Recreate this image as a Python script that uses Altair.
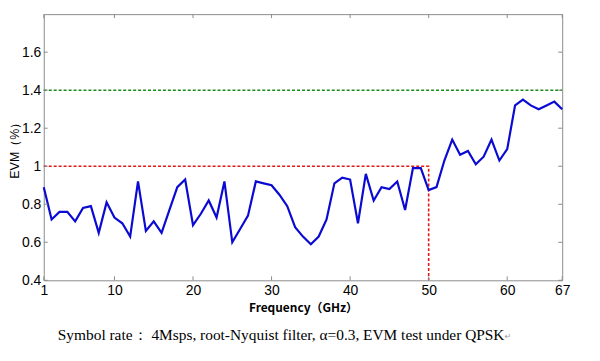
import altair as alt
import pandas as pd

freq = list(range(1, 68))
evm = [0.89, 0.72, 0.76, 0.76, 0.71, 0.78, 0.79, 0.65, 0.81, 0.73,
       0.70, 0.63, 0.92, 0.66, 0.71, 0.65, 0.77, 0.89, 0.93, 0.69,
       0.75, 0.82, 0.73, 0.92, 0.60, 0.67, 0.74, 0.92, 0.91, 0.90,
       0.85, 0.79, 0.68, 0.63, 0.59, 0.63, 0.72, 0.91, 0.94, 0.93,
       0.70, 0.96, 0.82, 0.89, 0.88, 0.92, 0.77, 0.99, 0.99, 0.875,
       0.89, 1.03, 1.14, 1.06, 1.08, 1.01, 1.05, 1.14, 1.03, 1.09,
       1.32, 1.35, 1.32, 1.30, 1.32, 1.34, 1.30]

limit_x = [1, 50, 50]
limit_y = [1.0, 1.0, 0.4]
green_level = 1.4

x_ticks = [1, 10, 20, 30, 40, 50, 60, 67]
y_ticks = [0.4, 0.6, 0.8, 1.0, 1.2, 1.4, 1.6]
caption = "Symbol rate：  4Msps, root-Nyquist filter, α=0.3, EVM test under QPSK"

W, H = 522, 268
TICK = 4
AXIS_GRAY = "#8c8c8c"

xs = alt.Scale(domain=[1, 67], nice=False, zero=False)
ys = alt.Scale(domain=[0.4, 1.8], nice=False, zero=False)

df = pd.DataFrame({"f": freq, "evm": evm})
red_df = pd.DataFrame({"f": limit_x, "evm": limit_y, "o": [0, 1, 2]})
green_df = pd.DataFrame({"f": [1], "f2": [67], "evm": [green_level]})
xt_df = pd.DataFrame({"f": x_ticks})
yt_df = pd.DataFrame({"evm": y_ticks})

base_x = alt.X("f:Q", scale=xs, axis=alt.Axis(
    values=x_ticks, title="Frequency（GHz）", tickSize=0, domain=False, grid=False,
    labelFont="Liberation Sans", labelFontSize=14, labelColor="black", labelPadding=3,
    titleFont="Noto Sans CJK SC", titleFontSize=12, titleFontWeight="bold",
    titleColor="black", titlePadding=5, labelFlush=False))
base_y = alt.Y("evm:Q", scale=ys, axis=alt.Axis(
    values=y_ticks, title="EVM（%）", tickSize=0, domain=False, grid=False,
    labelExpr="format(datum.value, '~g')",
    labelFont="Liberation Sans", labelFontSize=14, labelColor="black", labelPadding=3,
    titleFont="Liberation Sans", titleFontSize=12.5, titleFontWeight="normal",
    titleColor="black", titlePadding=0))

line = alt.Chart(df).mark_line(color="#0a0ad2", strokeWidth=2.2).encode(x=base_x, y=base_y)

green = alt.Chart(green_df).mark_rule(color="#1a8a1a", strokeWidth=1.6, strokeDash=[3, 2]).encode(
    x=alt.X("f:Q", scale=xs), x2="f2:Q", y=alt.Y("evm:Q", scale=ys))

red = alt.Chart(red_df).mark_line(color="#e01818", strokeWidth=1.6, strokeDash=[3, 2]).encode(
    x=alt.X("f:Q", scale=xs), y=alt.Y("evm:Q", scale=ys), order="o:Q")

top_ticks = alt.Chart(xt_df).mark_rule(color=AXIS_GRAY, strokeWidth=1).encode(
    x=alt.X("f:Q", scale=xs), y=alt.value(0), y2=alt.value(TICK))
bot_ticks = alt.Chart(xt_df).mark_rule(color=AXIS_GRAY, strokeWidth=1).encode(
    x=alt.X("f:Q", scale=xs), y=alt.value(H - TICK), y2=alt.value(H))
left_ticks = alt.Chart(yt_df).mark_rule(color=AXIS_GRAY, strokeWidth=1).encode(
    y=alt.Y("evm:Q", scale=ys), x=alt.value(0), x2=alt.value(TICK))
right_ticks = alt.Chart(yt_df).mark_rule(color=AXIS_GRAY, strokeWidth=1).encode(
    y=alt.Y("evm:Q", scale=ys), x=alt.value(W - TICK), x2=alt.value(W))

cap = alt.Chart(pd.DataFrame({"t": [caption]})).mark_text(
    font="Liberation Serif", fontSize=15.5, color="black", align="center", baseline="middle"
).encode(text="t:N", x=alt.value(239), y=alt.value(323))
ret = alt.Chart(pd.DataFrame({"t": ["↵"]})).mark_text(
    font="DejaVu Sans", fontSize=8, color="#999999", align="left", baseline="middle"
).encode(text="t:N", x=alt.value(464), y=alt.value(325))

chart = alt.layer(green, red, line, top_ticks, bot_ticks, left_ticks, right_ticks, cap, ret).properties(
    width=W, height=H,
    autosize=alt.AutoSizeParams(type="none"),
    padding={"left": 36, "top": 5, "right": 30, "bottom": 70},
    background="white",
).configure_view(stroke=AXIS_GRAY, strokeWidth=1)

chart.save("out.html", embed_options={"renderer": "svg", "actions": False})
